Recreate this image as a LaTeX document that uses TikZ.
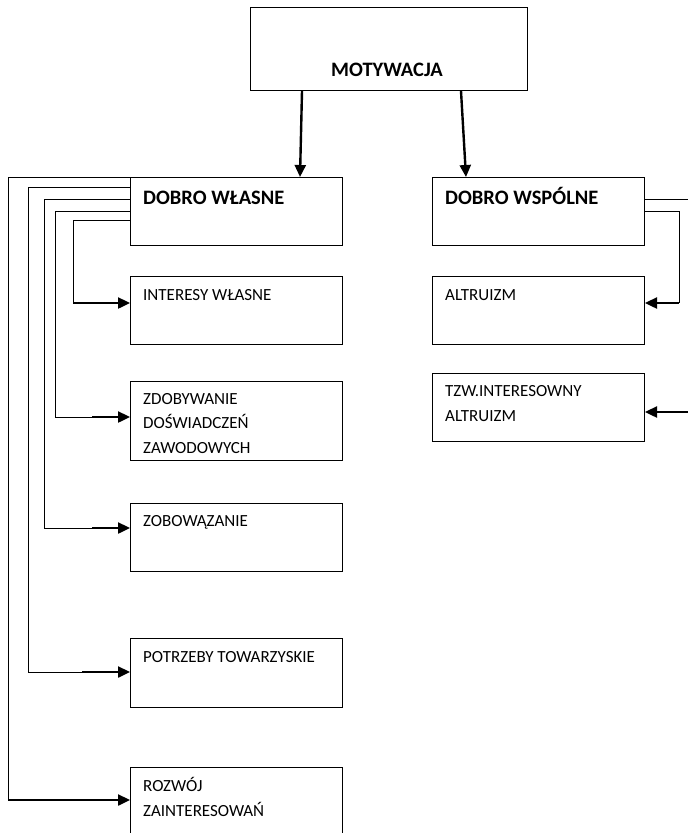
\documentclass[tikz,border=0pt]{standalone}
\usepackage{fontspec}
\setmainfont{Carlito}
\usetikzlibrary{arrows.meta}
\begin{document}
\begin{tikzpicture}[x=1pt,y=-1pt,
  box/.style={draw,line width=1pt,inner sep=0pt,anchor=north west},
  lbl/.style={anchor=base west,inner sep=0pt,font=\fontsize{17}{20}\selectfont},
  blbl/.style={anchor=base west,inner sep=0pt,font=\fontsize{20.5}{24}\selectfont\bfseries},
  thin/.style={line width=0.9pt},
  arr/.style={line width=2.4pt,-{Triangle[length=12pt,width=11pt]}}]
\useasboundingbox (0,0) rectangle (688,833);
% boxes
\node[box,minimum width=277pt,minimum height=83pt] (mot) at (250,7) {};
\node[box,minimum width=212pt,minimum height=68pt] (dw) at (130,177) {};
\node[box,minimum width=212pt,minimum height=68pt] (ds) at (432,177) {};
\node[box,minimum width=212pt,minimum height=68pt] (iw) at (130,276) {};
\node[box,minimum width=212pt,minimum height=79pt] (zd) at (130,381) {};
\node[box,minimum width=212pt,minimum height=68pt] (zo) at (130,503) {};
\node[box,minimum width=212pt,minimum height=69pt] (pt) at (130,638) {};
\node[box,minimum width=212pt,minimum height=90pt] (rz) at (130,767) {};
\node[box,minimum width=212pt,minimum height=68pt] (al) at (432,276) {};
\node[box,minimum width=212pt,minimum height=68pt] (tz) at (432,373) {};
% texts
\node[blbl] (tmot) at (331,76) {MOTYWACJA};
\node[blbl] (tdw) at (143,204) {DOBRO WŁASNE};
\node[blbl] (tds) at (445,204) {DOBRO WSPÓLNE};
\node[lbl] (tiw) at (143,300) {INTERESY WŁASNE};
\node[lbl] (tzd1) at (143,404) {ZDOBYWANIE};
\node[lbl] (tzd2) at (143,428) {DOŚWIADCZEŃ};
\node[lbl] (tzd3) at (143,453) {ZAWODOWYCH};
\node[lbl] (tzo) at (143,526) {ZOBOWĄZANIE};
\node[lbl] (tpt) at (143,662) {POTRZEBY TOWARZYSKIE};
\node[lbl] (trz1) at (143,791) {ROZWÓJ};
\node[lbl] (trz2) at (143,816) {ZAINTERESOWAŃ};
\node[lbl] (tal) at (445,300) {ALTRUIZM};
\node[lbl] (ttz1) at (445,396) {TZW.INTERESOWNY};
\node[lbl] (ttz2) at (445,421) {ALTRUIZM};
% top arrows
\draw[arr] (mot.south -| 302,0) -- (dw.north -| 300,0);
\draw[arr] (mot.south -| 461,0) -- (ds.north -| 466,0);
% left connectors
\coordinate (c1) at (73,303);
\coordinate (c2) at (92,417);
\coordinate (c3) at (92,528);
\coordinate (c4) at (82,672);
\coordinate (c5) at (8,800);
\draw[thin] (dw.west |- 0,220) -- (73,220) -- (c1);
\draw[arr] (c1) -- (iw.west |- c1);
\draw[thin] (dw.west |- 0,211) -- (55,211) -- (55,417) -- (c2);
\draw[arr] (c2) -- (zd.west |- c2);
\draw[thin] (dw.west |- 0,199) -- (44,199) -- (44,528) -- (c3);
\draw[arr] (c3) -- (zo.west |- c3);
\draw[thin] (dw.west |- 0,187) -- (28,187) -- (28,672) -- (c4);
\draw[arr] (c4) -- (pt.west |- c4);
\draw[thin] (dw.north west) -- (8,177) -- (c5);
\draw[arr] (c5) -- (rz.west |- c5);
% right connectors
\coordinate (r1) at (688,199);
\coordinate (r2) at (679,303);
\coordinate (r3) at (688,412);
\draw[thin] (ds.east |- r1) -- (r1);
\draw[thin] (ds.east |- 0,211) -- (679,211) -- (r2);
\draw[arr] (r2) -- (al.east |- r2);
\draw[arr] (r3) -- (tz.east |- r3);
\end{tikzpicture}
\end{document}
